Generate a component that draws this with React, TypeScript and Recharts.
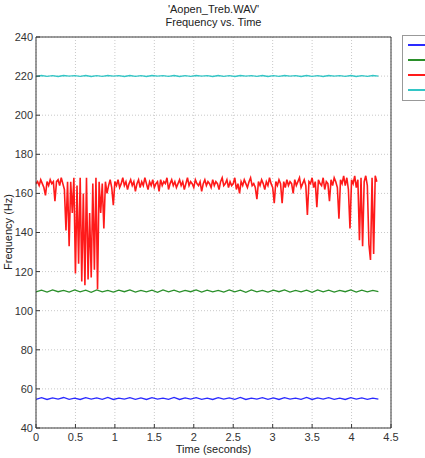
import { LineChart, Line, XAxis, YAxis, CartesianGrid } from 'recharts'

// time axis ticks (seconds) and frequency ticks (Hz)
const TIME_TICKS = [0, 0.5, 1, 1.5, 2, 2.5, 3, 3.5, 4, 4.5]
const FREQ_TICKS = [40, 60, 80, 100, 120, 140, 160, 180, 200, 220, 240]

// the steady partials are sampled every 0.07 s, the 165 Hz track every 0.02 s
const STEADY_STEP = 0.07
const RED_STEP = 0.02

const BLUE_HZ = [
  54.7, 55.5, 54.6, 55.4, 54.8, 55.6, 54.7, 55.3, 54.6, 55.5,
  54.8, 55.4, 54.7, 55.6, 54.6, 55.3, 54.8, 55.5, 54.7, 55.4,
  54.6, 55.5, 54.8, 55.3, 54.7, 55.6, 54.6, 55.4, 54.8, 55.5,
  54.7, 55.3, 54.6, 55.5, 54.8, 55.4, 54.7, 55.6, 54.6, 55.3,
  54.8, 55.5, 54.7, 55.4, 54.6, 55.5, 54.8, 55.3, 54.7, 55.6,
  54.6, 55.4, 54.8, 55.5, 54.7, 55.3, 54.6, 55.5, 54.8, 55.4,
  54.7, 55.3, 54.8
]

const GREEN_HZ = [
  109.6, 110.5, 109.5, 110.6, 109.7, 110.4, 109.5, 110.6, 109.6, 110.5,
  109.4, 110.6, 109.6, 110.4, 109.5, 110.5, 109.7, 110.6, 109.5, 110.4,
  109.6, 110.5, 109.4, 110.6, 109.6, 110.5, 109.5, 110.4, 109.7, 110.6,
  109.5, 110.5, 109.6, 110.4, 109.5, 110.6, 109.6, 110.5, 109.4, 110.6,
  109.6, 110.4, 109.5, 110.5, 109.7, 110.6, 109.5, 110.4, 109.6, 110.5,
  109.4, 110.6, 109.6, 110.5, 109.5, 110.4, 109.7, 110.6, 109.5, 110.5,
  109.6, 110.4, 109.8
]

const CYAN_HZ = [
  219.8, 220.3, 219.9, 220.2, 219.8, 220.3, 220.0, 220.2, 219.9, 220.3,
  219.8, 220.2, 219.9, 220.3, 220.0, 220.2, 219.8, 220.3, 219.9, 220.2,
  219.8, 220.3, 220.0, 220.2, 219.9, 220.3, 219.8, 220.2, 219.9, 220.3,
  220.0, 220.2, 219.8, 220.3, 219.9, 220.2, 219.8, 220.3, 220.0, 220.2,
  219.9, 220.3, 219.8, 220.2, 219.9, 220.3, 220.0, 220.2, 219.8, 220.3,
  219.9, 220.2, 219.8, 220.3, 220.0, 220.2, 219.9, 220.3, 219.8, 220.2,
  219.9, 220.3, 220.0
]

const RED_HZ = [
  165, 166, 164, 167, 165, 163, 159, 166, 164, 167,
  165, 166, 156, 166, 167, 164, 168, 165, 162, 141,
  166, 133, 166, 150, 168, 119, 164, 124, 168, 115,
  160, 113, 168, 116, 150, 117, 165, 121, 168, 111,
  166, 150, 165, 142, 166, 160, 164, 167, 163, 154,
  166, 164, 167, 163, 165, 168, 164, 166, 162, 165,
  167, 164, 166, 161, 165, 167, 163, 166, 164, 168,
  165, 162, 166, 164, 167, 163, 165, 166, 161, 167,
  164, 166, 165, 168, 162, 165, 167, 164, 166, 163,
  165, 167, 164, 166, 162, 165, 168, 164, 166, 165,
  163, 167, 165, 164, 166, 161, 165, 167, 164, 166,
  165, 163, 167, 164, 166, 165, 162, 166, 168, 164,
  165, 167, 163, 166, 164, 165, 168, 162, 165, 160,
  166, 164, 167, 165, 163, 166, 168, 164, 165, 163,
  157, 166, 164, 167, 165, 162, 166, 164, 168, 165,
  163, 155, 166, 164, 167, 165, 155, 166, 163, 167,
  164, 166, 165, 160, 167, 164, 166, 168, 163, 165,
  167, 164, 149, 166, 165, 168, 163, 166, 153, 167,
  165, 164, 168, 162, 166, 165, 156, 167, 164, 168,
  166, 163, 147, 167, 165, 169, 164, 168, 162, 142,
  167, 165, 169, 163, 167, 136, 168, 133, 166, 169,
  164, 134, 126, 168, 129, 169, 166
]

const SERIES = [
  { key: 'blue', color: '#2a2aff', values: BLUE_HZ, step: STEADY_STEP, width: 1.3 },
  { key: 'green', color: '#2a8f2a', values: GREEN_HZ, step: STEADY_STEP, width: 1.3 },
  { key: 'red', color: '#ff1a1a', values: RED_HZ, step: RED_STEP, width: 1.6 },
  { key: 'cyan', color: '#33c6c6', values: CYAN_HZ, step: STEADY_STEP, width: 1.3 }
]

const FONT = '"Liberation Sans", Arial, sans-serif'
const AXIS = '#3a3a3a'

export default function App() {
  const tickStyle = { fontSize: 11, fill: '#333', fontFamily: FONT }

  return (
    <div style={{ position: 'absolute', left: 0, top: 0, width: 425, height: 458, background: '#fff', fontFamily: FONT }}>
      <div style={{ position: 'absolute', left: 36, width: 355, top: 3, textAlign: 'center', fontSize: 11, lineHeight: '13px', color: '#222' }}>
        'Aopen_Treb.WAV'
        <br />
        Frequency vs. Time
      </div>

      <LineChart width={425} height={458} margin={{ top: 36, right: 33, bottom: 12, left: 0 }}>
        <CartesianGrid stroke="#c8c8c8" strokeDasharray="1 2" />
        <XAxis
          dataKey="t"
          type="number"
          domain={[0, 4.5]}
          ticks={TIME_TICKS}
          height={18}
          stroke={AXIS}
          tickSize={-4}
          tickMargin={9}
          tick={tickStyle}
          allowDuplicatedCategory={false}
        />
        <XAxis
          xAxisId="top"
          orientation="top"
          type="number"
          domain={[0, 4.5]}
          ticks={TIME_TICKS}
          height={1}
          stroke={AXIS}
          tickSize={-4}
          tickFormatter={() => ''}
        />
        <YAxis
          type="number"
          domain={[40, 240]}
          ticks={FREQ_TICKS}
          width={36}
          stroke={AXIS}
          tickSize={-4}
          tickMargin={7}
          tick={tickStyle}
        />
        <YAxis
          yAxisId="right"
          orientation="right"
          type="number"
          domain={[40, 240]}
          ticks={FREQ_TICKS}
          width={1}
          stroke={AXIS}
          tickSize={-4}
          tickFormatter={() => ''}
        />
        {SERIES.map((s) => (
          <Line
            key={s.key}
            data={s.values.map((f, i) => ({ t: +(i * s.step).toFixed(2), f }))}
            dataKey="f"
            type="linear"
            stroke={s.color}
            strokeWidth={s.width}
            dot={false}
            isAnimationActive={false}
          />
        ))}
      </LineChart>

      <div style={{ position: 'absolute', left: 36, width: 355, top: 443, textAlign: 'center', fontSize: 11, color: '#222' }}>
        Time (seconds)
      </div>
      <div
        style={{
          position: 'absolute',
          left: 8,
          top: 232,
          transform: 'translate(-50%, -50%) rotate(-90deg)',
          fontSize: 11,
          color: '#222',
          whiteSpace: 'nowrap'
        }}
      >
        Frequency (Hz)
      </div>

      {/* legend box, clipped by the right edge like the original figure */}
      <div style={{ position: 'absolute', left: 402, top: 35, width: 60, height: 64, border: '1px solid #999', background: '#fff' }}>
        {SERIES.map((s, i) => (
          <div key={s.key} style={{ position: 'absolute', left: 5, top: 8 + i * 15, width: 20, height: 0, borderTop: `2px solid ${s.color}` }} />
        ))}
      </div>
    </div>
  )
}
